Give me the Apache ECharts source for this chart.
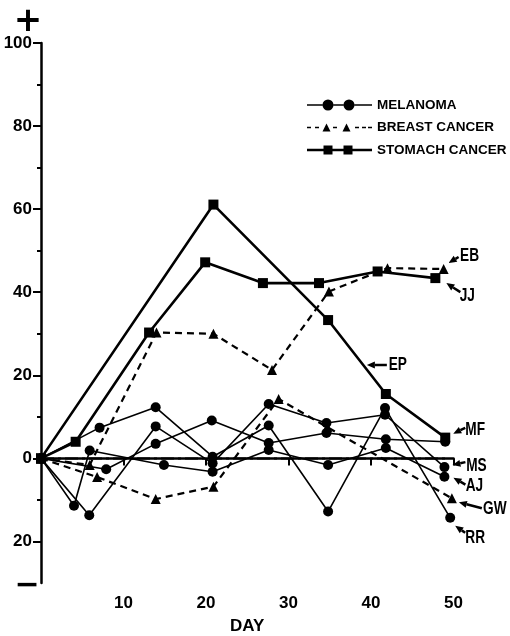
<!DOCTYPE html>
<html><head><meta charset="utf-8">
<script src="https://cdn.jsdelivr.net/npm/echarts@6/dist/echarts.min.js"></script>
<style>html,body{margin:0;padding:0;background:#fff;}#c{width:510px;height:636px;}</style>
</head><body><div id="c"></div>
<script>
// ---- tick labels ----
const xTicks = [10, 20, 30, 40, 50];
const yLabelTicks = [-20, 0, 20, 40, 60, 80, 100];
const yMinorTicks = [-10, 10, 30, 50, 70, 90];
const legendNames = ['MELANOMA', 'BREAST CANCER', 'STOMACH CANCER'];

// ---- data: [day, % change] per patient ----
// Melanoma
const MF = [[0,0],[7.9,-2.6],[13.9,3.5],[20.7,9.1],[27.6,3.7],[34.6,6.1],[41.8,4.6],[49,4.0]];
const MS = [[0,0],[5.85,-13.7],[13.9,7.7],[20.8,-1.2],[27.6,13.1],[34.6,8.5],[41.7,10.5],[48.9,-2.1]];
const AJ = [[0,0],[4.0,-11.4],[5.9,1.9],[14.9,-1.6],[20.8,-3.2],[27.6,2.0],[34.8,-1.6],[41.8,2.5],[48.9,-4.4]];
const RR = [[0,0],[7.1,7.4],[13.9,12.3],[20.8,0.4],[27.6,7.9],[34.8,-12.8],[41.7,12.1],[49.6,-14.3]];
// Breast cancer
const EB = [[0,0],[5.9,-1.6],[14.0,30.3],[20.9,30.0],[28.0,21.3],[34.9,40.2],[42.0,45.8],[48.8,45.6]];
const GW = [[0,0],[6.8,-4.5],[13.9,-9.8],[20.9,-6.8],[28.8,14.3],[34.7,7.5],[49.8,-9.6]];
// Stomach cancer
const EP = [[0,0],[20.9,61.1],[34.8,33.3],[41.8,15.5],[49,5.0]];
const JJ = [[0,0],[4.2,4.0],[13.1,30.3],[19.9,47.2],[26.9,42.2],[33.7,42.2],[40.8,45.0],[47.8,43.4]];
// zero reference line
const baseline = [[0,0],[49,0]];

const FONT = "'Liberation Sans',Arial,sans-serif";

const iconMel = 'path://M0 4.75H15.5V6.25H0Z M26.5 4.75H36.5V6.25H26.5Z M47.5 4.75H65V6.25H47.5Z M15.5 5.5A5.5 5.5 0 1 1 26.5 5.5A5.5 5.5 0 1 1 15.5 5.5Z M36.5 5.5A5.5 5.5 0 1 1 47.5 5.5A5.5 5.5 0 1 1 36.5 5.5Z';
const iconBr = 'path://M0 3.2H4V4.8H0Z M8 3.2H12V4.8H8Z M26 3.2H30V4.8H26Z M48 3.2H52V4.8H48Z M55 3.2H59V4.8H55Z M61 3.2H65V4.8H61Z M15.5 8L19.5 0L23.5 8Z M35.5 8L39.5 0L43.5 8Z';
const iconSt = 'path://M0 3.3H17V5.7H0Z M25 3.3H37V5.7H25Z M45 3.3H65V5.7H45Z M16.5 0H25.5V9H16.5Z M36.5 0H45.5V9H36.5Z';

function mk(kind, data) {
  const s = {type:'line', data, clip:false, z:3, symbolKeepAspect:true,
    itemStyle:{color:'#000', borderWidth:0}, emphasis:{disabled:true}};
  if (kind === 0) { s.name = legendNames[0]; s.symbol='circle'; s.symbolSize=10; s.lineStyle={color:'#000', width:1.6}; }
  if (kind === 1) { s.name = legendNames[1]; s.symbol='triangle'; s.symbolSize=10; s.lineStyle={color:'#000', width:2.2, type:[7,5]}; }
  if (kind === 2) { s.name = legendNames[2]; s.symbol='rect'; s.symbolSize=10; s.lineStyle={color:'#000', width:2.6}; }
  return s;
}

const chart = echarts.init(document.getElementById('c'), null, {renderer:'canvas'});
chart.setOption({
  animation:false,
  backgroundColor:'#fff',
  grid:{left:41, right:56.5, top:43, bottom:53, containLabel:false, outerBoundsMode:'none'},
  legend:{
    orient:'vertical', left:307, top:98, itemWidth:65, itemHeight:11, itemGap:8.5,
    selectedMode:false, padding:0,
    itemStyle:{color:'#000', borderWidth:0},
    textStyle:{fontFamily:FONT, fontWeight:'bold', fontSize:13.5, color:'#000', lineHeight:13},
    data:[{name:legendNames[0], icon:iconMel},{name:legendNames[1], icon:iconBr},{name:legendNames[2], icon:iconSt}]
  },
  xAxis:{
    type:'value', min:0, max:50, interval:10,
    name:'DAY', nameLocation:'middle', nameGap:35,
    nameTextStyle:{fontFamily:FONT, fontWeight:'bold', fontSize:17, color:'#000'},
    axisLine:{show:true, lineStyle:{color:'#000', width:2.5}},
    axisTick:{show:true, length:7, inside:false, customValues:xTicks, lineStyle:{color:'#000', width:2}},
    axisLabel:{customValues:xTicks, fontFamily:FONT, fontWeight:'bold', fontSize:17, color:'#000', margin:12},
    splitLine:{show:false}
  },
  yAxis:[{
    type:'value', min:-30, max:100, interval:10,
    axisLine:{show:true, lineStyle:{color:'#000', width:2.5}},
    axisTick:{show:true, length:8, customValues:yLabelTicks, lineStyle:{color:'#000', width:2}},
    axisLabel:{customValues:yLabelTicks, formatter:v=>String(Math.abs(v)), fontFamily:FONT, fontWeight:'bold', fontSize:17, color:'#000', margin:9},
    splitLine:{show:false}
  },{
    type:'value', min:-30, max:100, interval:10, position:'left',
    axisLine:{show:false}, axisLabel:{show:false}, splitLine:{show:false},
    axisTick:{show:true, length:4, customValues:yMinorTicks, lineStyle:{color:'#000', width:2}}
  }],
  series:[
    {type:'line', name:'baseline', data:baseline, symbol:'none', clip:false, z:2,
     lineStyle:{color:'#000', width:2, type:[13,4,3,4]}, emphasis:{disabled:true}},
    mk(0, MF), mk(0, MS), mk(0, AJ), mk(0, RR),
    mk(1, EB), mk(1, GW),
    mk(2, EP), mk(2, JJ)
  ]
});

// ---- patient labels with arrows: offsets (px) relative to an anchor data point ----
const notes = [
  {t:'EB', a:EB[EB.length-1], txt:[26,-13], tail:[15,-12], tip:[5,-6]},
  {t:'JJ', a:JJ[JJ.length-1], txt:[32,18], tail:[25,14], tip:[11,5]},
  {t:'EP', a:EP[3], txt:[12,-29], tail:[1,-29], tip:[-19,-29]},
  {t:'MF', a:MF[MF.length-1], txt:[30,-12], tail:[20,-14], tip:[8,-8]},
  {t:'MS', a:MS[MS.length-1], txt:[32,-1], tail:[21,-5], tip:[8,-2]},
  {t:'AJ', a:AJ[AJ.length-1], txt:[30,9], tail:[21,8], tip:[9,1]},
  {t:'GW', a:GW[GW.length-1], txt:[43,11], tail:[30,10], tip:[7,4]},
  {t:'RR', a:RR[RR.length-1], txt:[25,20], tail:[15,15], tip:[5,8]}
];
const g = [];
notes.forEach(n => {
  const p = chart.convertToPixel({xAxisIndex:0, yAxisIndex:0}, n.a);
  const T = [p[0]+n.tail[0], p[1]+n.tail[1]];
  const P = [p[0]+n.tip[0], p[1]+n.tip[1]];
  const dx = P[0]-T[0], dy = P[1]-T[1], L = Math.hypot(dx, dy);
  const ux = dx/L, uy = dy/L, nx = -uy, ny = ux;
  const hl = 8, hw = 3.5;
  const B = [P[0]-hl*ux, P[1]-hl*uy];
  g.push({type:'line', shape:{x1:T[0], y1:T[1], x2:B[0], y2:B[1]}, style:{stroke:'#000', lineWidth:2.5}, z:10});
  g.push({type:'polygon', shape:{points:[P,[B[0]+hw*nx,B[1]+hw*ny],[B[0]-hw*nx,B[1]-hw*ny]]}, style:{fill:'#000'}, z:10});
  g.push({type:'text', x:p[0]+n.txt[0], y:p[1]+n.txt[1], scaleX:0.72, z:10,
    style:{text:n.t, fontFamily:FONT, fontWeight:'bold', fontSize:19, fill:'#000', align:'center', verticalAlign:'middle'}});
});
// sign markers at the ends of the y axis
g.push({type:'text', x:28, y:22, z:10, style:{text:'+', fontFamily:"'DejaVu Sans',sans-serif", fontWeight:'bold', fontSize:34, fill:'#000', align:'center', verticalAlign:'middle'}});
g.push({type:'text', x:27, y:586, z:10, style:{text:'\u2212', fontFamily:"'DejaVu Sans',sans-serif", fontWeight:'bold', fontSize:30, fill:'#000', align:'center', verticalAlign:'middle'}});
chart.setOption({graphic:g});
</script>
</body></html>
